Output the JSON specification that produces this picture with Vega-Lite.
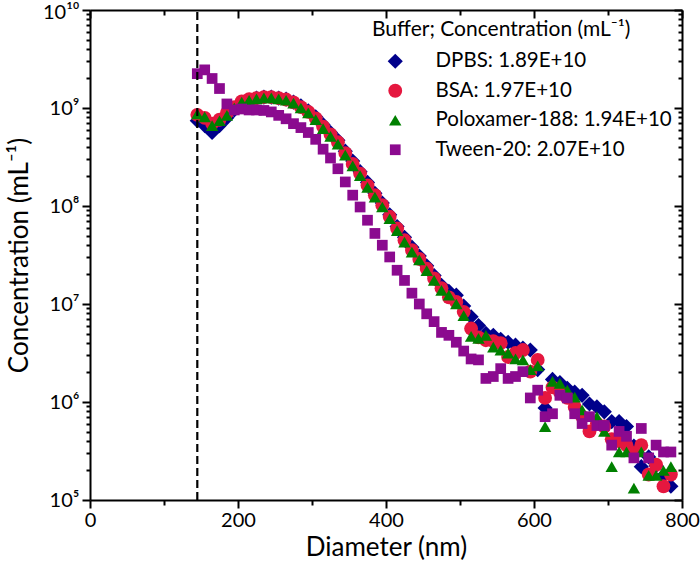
{
  "$schema": "https://vega.github.io/schema/vega-lite/v6.json",
  "autosize": {"type": "none"},
  "width": 592,
  "height": 490,
  "padding": {"left": 90, "top": 10, "right": 18, "bottom": 64},
  "background": "white",
  "config": {
    "font": "Lato",
    "view": {"stroke": null},
    "axis": {
      "domainColor": "black", "domainWidth": 2, "tickColor": "black", "tickWidth": 2,
      "labelColor": "black", "titleColor": "black", "labelFontSize": 20, "titleFontSize": 26,
      "titleFontWeight": "normal", "grid": false, "labelFlush": false, "labelOverlap": false, "labelBound": false
    },
    "legend": {
      "orient": "none", "legendX": 282, "legendY": 9, "padding": 0,
      "titleFontSize": 21, "titleFontWeight": "normal", "titleColor": "black", "titlePadding": 11, "titleLimit": 400,
      "labelFontSize": 20.5, "labelColor": "black", "labelLimit": 400, "rowPadding": 8.5,
      "symbolOffset": 13, "labelOffset": 30
    }
  },
  "layer": [
    {
      "data": {"values": [
        {"buffer": "DPBS: 1.89E+10", "diameter": 145, "conc": 7.41e8},
        {"buffer": "DPBS: 1.89E+10", "diameter": 155, "conc": 6.61e8},
        {"buffer": "DPBS: 1.89E+10", "diameter": 165, "conc": 5.62e8},
        {"buffer": "DPBS: 1.89E+10", "diameter": 175, "conc": 6.61e8},
        {"buffer": "DPBS: 1.89E+10", "diameter": 185, "conc": 7.94e8},
        {"buffer": "DPBS: 1.89E+10", "diameter": 195, "conc": 9.55e8},
        {"buffer": "DPBS: 1.89E+10", "diameter": 205, "conc": 1.12e9},
        {"buffer": "DPBS: 1.89E+10", "diameter": 215, "conc": 1.20e9},
        {"buffer": "DPBS: 1.89E+10", "diameter": 225, "conc": 1.26e9},
        {"buffer": "DPBS: 1.89E+10", "diameter": 235, "conc": 1.29e9},
        {"buffer": "DPBS: 1.89E+10", "diameter": 245, "conc": 1.29e9},
        {"buffer": "DPBS: 1.89E+10", "diameter": 255, "conc": 1.26e9},
        {"buffer": "DPBS: 1.89E+10", "diameter": 265, "conc": 1.23e9},
        {"buffer": "DPBS: 1.89E+10", "diameter": 275, "conc": 1.15e9},
        {"buffer": "DPBS: 1.89E+10", "diameter": 285, "conc": 1.05e9},
        {"buffer": "DPBS: 1.89E+10", "diameter": 295, "conc": 9.33e8},
        {"buffer": "DPBS: 1.89E+10", "diameter": 305, "conc": 8.13e8},
        {"buffer": "DPBS: 1.89E+10", "diameter": 315, "conc": 6.76e8},
        {"buffer": "DPBS: 1.89E+10", "diameter": 325, "conc": 5.62e8},
        {"buffer": "DPBS: 1.89E+10", "diameter": 335, "conc": 4.68e8},
        {"buffer": "DPBS: 1.89E+10", "diameter": 345, "conc": 3.63e8},
        {"buffer": "DPBS: 1.89E+10", "diameter": 355, "conc": 2.88e8},
        {"buffer": "DPBS: 1.89E+10", "diameter": 365, "conc": 2.24e8},
        {"buffer": "DPBS: 1.89E+10", "diameter": 375, "conc": 1.74e8},
        {"buffer": "DPBS: 1.89E+10", "diameter": 385, "conc": 1.35e8},
        {"buffer": "DPBS: 1.89E+10", "diameter": 395, "conc": 1.07e8},
        {"buffer": "DPBS: 1.89E+10", "diameter": 405, "conc": 8.13e7},
        {"buffer": "DPBS: 1.89E+10", "diameter": 415, "conc": 6.17e7},
        {"buffer": "DPBS: 1.89E+10", "diameter": 425, "conc": 4.79e7},
        {"buffer": "DPBS: 1.89E+10", "diameter": 435, "conc": 3.80e7},
        {"buffer": "DPBS: 1.89E+10", "diameter": 445, "conc": 3.09e7},
        {"buffer": "DPBS: 1.89E+10", "diameter": 455, "conc": 2.45e7},
        {"buffer": "DPBS: 1.89E+10", "diameter": 465, "conc": 1.95e7},
        {"buffer": "DPBS: 1.89E+10", "diameter": 475, "conc": 1.55e7},
        {"buffer": "DPBS: 1.89E+10", "diameter": 485, "conc": 1.35e7},
        {"buffer": "DPBS: 1.89E+10", "diameter": 495, "conc": 1.23e7},
        {"buffer": "DPBS: 1.89E+10", "diameter": 505, "conc": 9.55e6},
        {"buffer": "DPBS: 1.89E+10", "diameter": 515, "conc": 7.41e6},
        {"buffer": "DPBS: 1.89E+10", "diameter": 525, "conc": 6.03e6},
        {"buffer": "DPBS: 1.89E+10", "diameter": 535, "conc": 5.01e6},
        {"buffer": "DPBS: 1.89E+10", "diameter": 545, "conc": 4.79e6},
        {"buffer": "DPBS: 1.89E+10", "diameter": 555, "conc": 4.37e6},
        {"buffer": "DPBS: 1.89E+10", "diameter": 565, "conc": 4.07e6},
        {"buffer": "DPBS: 1.89E+10", "diameter": 575, "conc": 3.80e6},
        {"buffer": "DPBS: 1.89E+10", "diameter": 585, "conc": 3.55e6},
        {"buffer": "DPBS: 1.89E+10", "diameter": 595, "conc": 3.39e6},
        {"buffer": "DPBS: 1.89E+10", "diameter": 605, "conc": 2.14e6},
        {"buffer": "DPBS: 1.89E+10", "diameter": 615, "conc": 8.71e5},
        {"buffer": "DPBS: 1.89E+10", "diameter": 625, "conc": 1.70e6},
        {"buffer": "DPBS: 1.89E+10", "diameter": 635, "conc": 1.58e6},
        {"buffer": "DPBS: 1.89E+10", "diameter": 645, "conc": 1.38e6},
        {"buffer": "DPBS: 1.89E+10", "diameter": 655, "conc": 1.26e6},
        {"buffer": "DPBS: 1.89E+10", "diameter": 665, "conc": 1.17e6},
        {"buffer": "DPBS: 1.89E+10", "diameter": 675, "conc": 9.55e5},
        {"buffer": "DPBS: 1.89E+10", "diameter": 685, "conc": 8.91e5},
        {"buffer": "DPBS: 1.89E+10", "diameter": 695, "conc": 7.94e5},
        {"buffer": "DPBS: 1.89E+10", "diameter": 705, "conc": 6.31e5},
        {"buffer": "DPBS: 1.89E+10", "diameter": 715, "conc": 6.31e5},
        {"buffer": "DPBS: 1.89E+10", "diameter": 725, "conc": 5.62e5},
        {"buffer": "DPBS: 1.89E+10", "diameter": 735, "conc": 3.55e5},
        {"buffer": "DPBS: 1.89E+10", "diameter": 745, "conc": 2.19e5},
        {"buffer": "DPBS: 1.89E+10", "diameter": 755, "conc": 2.75e5},
        {"buffer": "DPBS: 1.89E+10", "diameter": 765, "conc": 2.24e5},
        {"buffer": "DPBS: 1.89E+10", "diameter": 775, "conc": 1.78e5},
        {"buffer": "DPBS: 1.89E+10", "diameter": 785, "conc": 1.38e5},
        {"buffer": "BSA: 1.97E+10", "diameter": 145, "conc": 8.51e8},
        {"buffer": "BSA: 1.97E+10", "diameter": 155, "conc": 7.94e8},
        {"buffer": "BSA: 1.97E+10", "diameter": 165, "conc": 6.92e8},
        {"buffer": "BSA: 1.97E+10", "diameter": 175, "conc": 7.59e8},
        {"buffer": "BSA: 1.97E+10", "diameter": 185, "conc": 8.91e8},
        {"buffer": "BSA: 1.97E+10", "diameter": 195, "conc": 1.02e9},
        {"buffer": "BSA: 1.97E+10", "diameter": 205, "conc": 1.17e9},
        {"buffer": "BSA: 1.97E+10", "diameter": 215, "conc": 1.23e9},
        {"buffer": "BSA: 1.97E+10", "diameter": 225, "conc": 1.26e9},
        {"buffer": "BSA: 1.97E+10", "diameter": 235, "conc": 1.29e9},
        {"buffer": "BSA: 1.97E+10", "diameter": 245, "conc": 1.29e9},
        {"buffer": "BSA: 1.97E+10", "diameter": 255, "conc": 1.26e9},
        {"buffer": "BSA: 1.97E+10", "diameter": 265, "conc": 1.22e9},
        {"buffer": "BSA: 1.97E+10", "diameter": 275, "conc": 1.14e9},
        {"buffer": "BSA: 1.97E+10", "diameter": 285, "conc": 1.02e9},
        {"buffer": "BSA: 1.97E+10", "diameter": 295, "conc": 9.12e8},
        {"buffer": "BSA: 1.97E+10", "diameter": 305, "conc": 7.85e8},
        {"buffer": "BSA: 1.97E+10", "diameter": 315, "conc": 6.46e8},
        {"buffer": "BSA: 1.97E+10", "diameter": 325, "conc": 5.37e8},
        {"buffer": "BSA: 1.97E+10", "diameter": 335, "conc": 4.47e8},
        {"buffer": "BSA: 1.97E+10", "diameter": 345, "conc": 3.47e8},
        {"buffer": "BSA: 1.97E+10", "diameter": 355, "conc": 2.69e8},
        {"buffer": "BSA: 1.97E+10", "diameter": 365, "conc": 2.14e8},
        {"buffer": "BSA: 1.97E+10", "diameter": 375, "conc": 1.62e8},
        {"buffer": "BSA: 1.97E+10", "diameter": 385, "conc": 1.29e8},
        {"buffer": "BSA: 1.97E+10", "diameter": 395, "conc": 1.02e8},
        {"buffer": "BSA: 1.97E+10", "diameter": 405, "conc": 7.76e7},
        {"buffer": "BSA: 1.97E+10", "diameter": 415, "conc": 5.89e7},
        {"buffer": "BSA: 1.97E+10", "diameter": 425, "conc": 4.47e7},
        {"buffer": "BSA: 1.97E+10", "diameter": 435, "conc": 3.55e7},
        {"buffer": "BSA: 1.97E+10", "diameter": 445, "conc": 2.88e7},
        {"buffer": "BSA: 1.97E+10", "diameter": 455, "conc": 2.29e7},
        {"buffer": "BSA: 1.97E+10", "diameter": 465, "conc": 1.82e7},
        {"buffer": "BSA: 1.97E+10", "diameter": 475, "conc": 1.45e7},
        {"buffer": "BSA: 1.97E+10", "diameter": 485, "conc": 1.17e7},
        {"buffer": "BSA: 1.97E+10", "diameter": 495, "conc": 1.05e7},
        {"buffer": "BSA: 1.97E+10", "diameter": 505, "conc": 8.32e6},
        {"buffer": "BSA: 1.97E+10", "diameter": 515, "conc": 5.62e6},
        {"buffer": "BSA: 1.97E+10", "diameter": 525, "conc": 4.57e6},
        {"buffer": "BSA: 1.97E+10", "diameter": 535, "conc": 4.27e6},
        {"buffer": "BSA: 1.97E+10", "diameter": 545, "conc": 4.17e6},
        {"buffer": "BSA: 1.97E+10", "diameter": 555, "conc": 3.98e6},
        {"buffer": "BSA: 1.97E+10", "diameter": 565, "conc": 2.88e6},
        {"buffer": "BSA: 1.97E+10", "diameter": 575, "conc": 3.16e6},
        {"buffer": "BSA: 1.97E+10", "diameter": 585, "conc": 3.39e6},
        {"buffer": "BSA: 1.97E+10", "diameter": 595, "conc": 2.04e6},
        {"buffer": "BSA: 1.97E+10", "diameter": 605, "conc": 2.69e6},
        {"buffer": "BSA: 1.97E+10", "diameter": 615, "conc": 1.10e6},
        {"buffer": "BSA: 1.97E+10", "diameter": 625, "conc": 1.41e6},
        {"buffer": "BSA: 1.97E+10", "diameter": 635, "conc": 1.26e6},
        {"buffer": "BSA: 1.97E+10", "diameter": 645, "conc": 1.10e6},
        {"buffer": "BSA: 1.97E+10", "diameter": 655, "conc": 8.91e5},
        {"buffer": "BSA: 1.97E+10", "diameter": 665, "conc": 7.08e5},
        {"buffer": "BSA: 1.97E+10", "diameter": 675, "conc": 5.01e5},
        {"buffer": "BSA: 1.97E+10", "diameter": 685, "conc": 6.03e5},
        {"buffer": "BSA: 1.97E+10", "diameter": 695, "conc": 5.62e5},
        {"buffer": "BSA: 1.97E+10", "diameter": 705, "conc": 4.17e5},
        {"buffer": "BSA: 1.97E+10", "diameter": 715, "conc": 3.98e5},
        {"buffer": "BSA: 1.97E+10", "diameter": 725, "conc": 3.63e5},
        {"buffer": "BSA: 1.97E+10", "diameter": 735, "conc": 3.02e5},
        {"buffer": "BSA: 1.97E+10", "diameter": 745, "conc": 3.63e5},
        {"buffer": "BSA: 1.97E+10", "diameter": 755, "conc": 1.82e5},
        {"buffer": "BSA: 1.97E+10", "diameter": 765, "conc": 2.29e5},
        {"buffer": "BSA: 1.97E+10", "diameter": 775, "conc": 1.38e5},
        {"buffer": "BSA: 1.97E+10", "diameter": 785, "conc": 1.82e5},
        {"buffer": "Poloxamer-188: 1.94E+10", "diameter": 145, "conc": 8.71e8},
        {"buffer": "Poloxamer-188: 1.94E+10", "diameter": 155, "conc": 8.13e8},
        {"buffer": "Poloxamer-188: 1.94E+10", "diameter": 165, "conc": 6.61e8},
        {"buffer": "Poloxamer-188: 1.94E+10", "diameter": 175, "conc": 7.41e8},
        {"buffer": "Poloxamer-188: 1.94E+10", "diameter": 185, "conc": 8.41e8},
        {"buffer": "Poloxamer-188: 1.94E+10", "diameter": 195, "conc": 1.00e9},
        {"buffer": "Poloxamer-188: 1.94E+10", "diameter": 205, "conc": 1.15e9},
        {"buffer": "Poloxamer-188: 1.94E+10", "diameter": 215, "conc": 1.20e9},
        {"buffer": "Poloxamer-188: 1.94E+10", "diameter": 225, "conc": 1.24e9},
        {"buffer": "Poloxamer-188: 1.94E+10", "diameter": 235, "conc": 1.27e9},
        {"buffer": "Poloxamer-188: 1.94E+10", "diameter": 245, "conc": 1.27e9},
        {"buffer": "Poloxamer-188: 1.94E+10", "diameter": 255, "conc": 1.24e9},
        {"buffer": "Poloxamer-188: 1.94E+10", "diameter": 265, "conc": 1.20e9},
        {"buffer": "Poloxamer-188: 1.94E+10", "diameter": 275, "conc": 1.12e9},
        {"buffer": "Poloxamer-188: 1.94E+10", "diameter": 285, "conc": 1.00e9},
        {"buffer": "Poloxamer-188: 1.94E+10", "diameter": 295, "conc": 8.91e8},
        {"buffer": "Poloxamer-188: 1.94E+10", "diameter": 305, "conc": 7.59e8},
        {"buffer": "Poloxamer-188: 1.94E+10", "diameter": 315, "conc": 6.17e8},
        {"buffer": "Poloxamer-188: 1.94E+10", "diameter": 325, "conc": 5.13e8},
        {"buffer": "Poloxamer-188: 1.94E+10", "diameter": 335, "conc": 4.27e8},
        {"buffer": "Poloxamer-188: 1.94E+10", "diameter": 345, "conc": 3.31e8},
        {"buffer": "Poloxamer-188: 1.94E+10", "diameter": 355, "conc": 2.57e8},
        {"buffer": "Poloxamer-188: 1.94E+10", "diameter": 365, "conc": 2.04e8},
        {"buffer": "Poloxamer-188: 1.94E+10", "diameter": 375, "conc": 1.55e8},
        {"buffer": "Poloxamer-188: 1.94E+10", "diameter": 385, "conc": 1.23e8},
        {"buffer": "Poloxamer-188: 1.94E+10", "diameter": 395, "conc": 9.77e7},
        {"buffer": "Poloxamer-188: 1.94E+10", "diameter": 405, "conc": 7.41e7},
        {"buffer": "Poloxamer-188: 1.94E+10", "diameter": 415, "conc": 5.62e7},
        {"buffer": "Poloxamer-188: 1.94E+10", "diameter": 425, "conc": 4.27e7},
        {"buffer": "Poloxamer-188: 1.94E+10", "diameter": 435, "conc": 3.39e7},
        {"buffer": "Poloxamer-188: 1.94E+10", "diameter": 445, "conc": 2.82e7},
        {"buffer": "Poloxamer-188: 1.94E+10", "diameter": 455, "conc": 2.19e7},
        {"buffer": "Poloxamer-188: 1.94E+10", "diameter": 465, "conc": 1.74e7},
        {"buffer": "Poloxamer-188: 1.94E+10", "diameter": 475, "conc": 1.38e7},
        {"buffer": "Poloxamer-188: 1.94E+10", "diameter": 485, "conc": 1.23e7},
        {"buffer": "Poloxamer-188: 1.94E+10", "diameter": 495, "conc": 1.00e7},
        {"buffer": "Poloxamer-188: 1.94E+10", "diameter": 505, "conc": 7.59e6},
        {"buffer": "Poloxamer-188: 1.94E+10", "diameter": 515, "conc": 4.68e6},
        {"buffer": "Poloxamer-188: 1.94E+10", "diameter": 525, "conc": 4.47e6},
        {"buffer": "Poloxamer-188: 1.94E+10", "diameter": 535, "conc": 4.79e6},
        {"buffer": "Poloxamer-188: 1.94E+10", "diameter": 545, "conc": 3.63e6},
        {"buffer": "Poloxamer-188: 1.94E+10", "diameter": 555, "conc": 3.39e6},
        {"buffer": "Poloxamer-188: 1.94E+10", "diameter": 565, "conc": 3.16e6},
        {"buffer": "Poloxamer-188: 1.94E+10", "diameter": 575, "conc": 2.75e6},
        {"buffer": "Poloxamer-188: 1.94E+10", "diameter": 585, "conc": 2.69e6},
        {"buffer": "Poloxamer-188: 1.94E+10", "diameter": 595, "conc": 2.14e6},
        {"buffer": "Poloxamer-188: 1.94E+10", "diameter": 605, "conc": 2.34e6},
        {"buffer": "Poloxamer-188: 1.94E+10", "diameter": 615, "conc": 5.62e5},
        {"buffer": "Poloxamer-188: 1.94E+10", "diameter": 625, "conc": 1.62e6},
        {"buffer": "Poloxamer-188: 1.94E+10", "diameter": 635, "conc": 1.55e6},
        {"buffer": "Poloxamer-188: 1.94E+10", "diameter": 645, "conc": 1.32e6},
        {"buffer": "Poloxamer-188: 1.94E+10", "diameter": 655, "conc": 1.12e6},
        {"buffer": "Poloxamer-188: 1.94E+10", "diameter": 665, "conc": 8.32e5},
        {"buffer": "Poloxamer-188: 1.94E+10", "diameter": 675, "conc": 7.08e5},
        {"buffer": "Poloxamer-188: 1.94E+10", "diameter": 685, "conc": 7.08e5},
        {"buffer": "Poloxamer-188: 1.94E+10", "diameter": 695, "conc": 5.01e5},
        {"buffer": "Poloxamer-188: 1.94E+10", "diameter": 705, "conc": 2.19e5},
        {"buffer": "Poloxamer-188: 1.94E+10", "diameter": 715, "conc": 3.09e5},
        {"buffer": "Poloxamer-188: 1.94E+10", "diameter": 725, "conc": 3.09e5},
        {"buffer": "Poloxamer-188: 1.94E+10", "diameter": 735, "conc": 1.32e5},
        {"buffer": "Poloxamer-188: 1.94E+10", "diameter": 745, "conc": 3.09e5},
        {"buffer": "Poloxamer-188: 1.94E+10", "diameter": 755, "conc": 1.78e5},
        {"buffer": "Poloxamer-188: 1.94E+10", "diameter": 765, "conc": 1.78e5},
        {"buffer": "Poloxamer-188: 1.94E+10", "diameter": 775, "conc": 2.00e5},
        {"buffer": "Poloxamer-188: 1.94E+10", "diameter": 785, "conc": 2.19e5},
        {"buffer": "Tween-20: 2.07E+10", "diameter": 145, "conc": 2.24e9},
        {"buffer": "Tween-20: 2.07E+10", "diameter": 155, "conc": 2.45e9},
        {"buffer": "Tween-20: 2.07E+10", "diameter": 165, "conc": 2.00e9},
        {"buffer": "Tween-20: 2.07E+10", "diameter": 175, "conc": 1.58e9},
        {"buffer": "Tween-20: 2.07E+10", "diameter": 185, "conc": 1.10e9},
        {"buffer": "Tween-20: 2.07E+10", "diameter": 195, "conc": 9.55e8},
        {"buffer": "Tween-20: 2.07E+10", "diameter": 205, "conc": 9.77e8},
        {"buffer": "Tween-20: 2.07E+10", "diameter": 215, "conc": 9.55e8},
        {"buffer": "Tween-20: 2.07E+10", "diameter": 225, "conc": 9.55e8},
        {"buffer": "Tween-20: 2.07E+10", "diameter": 235, "conc": 9.44e8},
        {"buffer": "Tween-20: 2.07E+10", "diameter": 245, "conc": 9.12e8},
        {"buffer": "Tween-20: 2.07E+10", "diameter": 255, "conc": 8.41e8},
        {"buffer": "Tween-20: 2.07E+10", "diameter": 265, "conc": 7.76e8},
        {"buffer": "Tween-20: 2.07E+10", "diameter": 275, "conc": 6.92e8},
        {"buffer": "Tween-20: 2.07E+10", "diameter": 285, "conc": 6.31e8},
        {"buffer": "Tween-20: 2.07E+10", "diameter": 295, "conc": 5.62e8},
        {"buffer": "Tween-20: 2.07E+10", "diameter": 305, "conc": 4.79e8},
        {"buffer": "Tween-20: 2.07E+10", "diameter": 315, "conc": 3.80e8},
        {"buffer": "Tween-20: 2.07E+10", "diameter": 325, "conc": 3.09e8},
        {"buffer": "Tween-20: 2.07E+10", "diameter": 335, "conc": 2.40e8},
        {"buffer": "Tween-20: 2.07E+10", "diameter": 345, "conc": 1.76e8},
        {"buffer": "Tween-20: 2.07E+10", "diameter": 355, "conc": 1.29e8},
        {"buffer": "Tween-20: 2.07E+10", "diameter": 365, "conc": 9.77e7},
        {"buffer": "Tween-20: 2.07E+10", "diameter": 375, "conc": 7.16e7},
        {"buffer": "Tween-20: 2.07E+10", "diameter": 385, "conc": 5.25e7},
        {"buffer": "Tween-20: 2.07E+10", "diameter": 395, "conc": 3.98e7},
        {"buffer": "Tween-20: 2.07E+10", "diameter": 405, "conc": 3.02e7},
        {"buffer": "Tween-20: 2.07E+10", "diameter": 415, "conc": 2.21e7},
        {"buffer": "Tween-20: 2.07E+10", "diameter": 425, "conc": 1.74e7},
        {"buffer": "Tween-20: 2.07E+10", "diameter": 435, "conc": 1.29e7},
        {"buffer": "Tween-20: 2.07E+10", "diameter": 445, "conc": 1.00e7},
        {"buffer": "Tween-20: 2.07E+10", "diameter": 455, "conc": 7.94e6},
        {"buffer": "Tween-20: 2.07E+10", "diameter": 465, "conc": 6.61e6},
        {"buffer": "Tween-20: 2.07E+10", "diameter": 475, "conc": 5.13e6},
        {"buffer": "Tween-20: 2.07E+10", "diameter": 485, "conc": 4.79e6},
        {"buffer": "Tween-20: 2.07E+10", "diameter": 495, "conc": 4.07e6},
        {"buffer": "Tween-20: 2.07E+10", "diameter": 505, "conc": 3.31e6},
        {"buffer": "Tween-20: 2.07E+10", "diameter": 515, "conc": 2.75e6},
        {"buffer": "Tween-20: 2.07E+10", "diameter": 525, "conc": 2.69e6},
        {"buffer": "Tween-20: 2.07E+10", "diameter": 535, "conc": 1.74e6},
        {"buffer": "Tween-20: 2.07E+10", "diameter": 545, "conc": 1.82e6},
        {"buffer": "Tween-20: 2.07E+10", "diameter": 555, "conc": 2.19e6},
        {"buffer": "Tween-20: 2.07E+10", "diameter": 565, "conc": 1.74e6},
        {"buffer": "Tween-20: 2.07E+10", "diameter": 575, "conc": 1.82e6},
        {"buffer": "Tween-20: 2.07E+10", "diameter": 585, "conc": 2.04e6},
        {"buffer": "Tween-20: 2.07E+10", "diameter": 595, "conc": 1.10e6},
        {"buffer": "Tween-20: 2.07E+10", "diameter": 605, "conc": 1.32e6},
        {"buffer": "Tween-20: 2.07E+10", "diameter": 615, "conc": 7.08e5},
        {"buffer": "Tween-20: 2.07E+10", "diameter": 625, "conc": 7.59e5},
        {"buffer": "Tween-20: 2.07E+10", "diameter": 635, "conc": 1.17e6},
        {"buffer": "Tween-20: 2.07E+10", "diameter": 645, "conc": 1.10e6},
        {"buffer": "Tween-20: 2.07E+10", "diameter": 655, "conc": 7.59e5},
        {"buffer": "Tween-20: 2.07E+10", "diameter": 665, "conc": 6.03e5},
        {"buffer": "Tween-20: 2.07E+10", "diameter": 675, "conc": 7.08e5},
        {"buffer": "Tween-20: 2.07E+10", "diameter": 685, "conc": 5.75e5},
        {"buffer": "Tween-20: 2.07E+10", "diameter": 695, "conc": 5.75e5},
        {"buffer": "Tween-20: 2.07E+10", "diameter": 705, "conc": 3.63e5},
        {"buffer": "Tween-20: 2.07E+10", "diameter": 715, "conc": 5.01e5},
        {"buffer": "Tween-20: 2.07E+10", "diameter": 725, "conc": 4.47e5},
        {"buffer": "Tween-20: 2.07E+10", "diameter": 735, "conc": 2.69e5},
        {"buffer": "Tween-20: 2.07E+10", "diameter": 745, "conc": 5.37e5},
        {"buffer": "Tween-20: 2.07E+10", "diameter": 755, "conc": 2.69e5},
        {"buffer": "Tween-20: 2.07E+10", "diameter": 765, "conc": 3.63e5},
        {"buffer": "Tween-20: 2.07E+10", "diameter": 775, "conc": 3.09e5},
        {"buffer": "Tween-20: 2.07E+10", "diameter": 785, "conc": 3.09e5}
      ]},
      "mark": {"type": "point", "filled": true, "opacity": 1, "strokeWidth": 0},
      "encoding": {
        "x": {
          "field": "diameter", "type": "quantitative",
          "scale": {"domain": [0, 800], "nice": false, "zero": false},
          "axis": {
            "orient": "bottom", "title": "Diameter (nm)",
            "values": [0, 100, 200, 300, 400, 500, 600, 700, 800],
            "labelExpr": "datum.value % 200 == 0 ? datum.label : ''",
            "tickSize": {"condition": {"test": "datum.value % 200 == 0", "value": 8}, "value": 5},
            "labelPadding": 2, "titlePadding": 4
          }
        },
        "y": {
          "field": "conc", "type": "quantitative",
          "scale": {"type": "log", "domain": [1e5, 1e10], "nice": false},
          "axis": {
            "orient": "left", "title": "Concentration (mL⁻¹)",
            "values": [1e5, 2e5, 3e5, 4e5, 5e5, 6e5, 7e5, 8e5, 9e5, 1e6, 2e6, 3e6, 4e6, 5e6, 6e6, 7e6, 8e6, 9e6, 1e7, 2e7, 3e7, 4e7, 5e7, 6e7, 7e7, 8e7, 9e7, 1e8, 2e8, 3e8, 4e8, 5e8, 6e8, 7e8, 8e8, 9e8, 1e9, 2e9, 3e9, 4e9, 5e9, 6e9, 7e9, 8e9, 9e9, 1e10],
            "labelExpr": "datum.value == 1e10 ? '10¹⁰' : datum.value == 1e9 ? '10⁹' : datum.value == 1e8 ? '10⁸' : datum.value == 1e7 ? '10⁷' : datum.value == 1e6 ? '10⁶' : datum.value == 1e5 ? '10⁵' : ''",
            "labelOffset": {"condition": {"test": "datum.value == 1e10", "value": 2}, "value": 0},
            "tickSize": {"condition": {"test": "abs(log(datum.value)/LN10 - round(log(datum.value)/LN10)) < 0.01", "value": 8}, "value": 4},
            "labelPadding": 3, "titlePadding": 10
          }
        },
        "color": {
          "field": "buffer", "type": "nominal",
          "scale": {"domain": ["DPBS: 1.89E+10", "BSA: 1.97E+10", "Poloxamer-188: 1.94E+10", "Tween-20: 2.07E+10"], "range": ["#00008B", "#E5173F", "#008000", "#8B0A8F"]},
          "legend": {"title": "Buffer; Concentration (mL⁻¹)"}
        },
        "shape": {
          "field": "buffer", "type": "nominal",
          "scale": {"domain": ["DPBS: 1.89E+10", "BSA: 1.97E+10", "Poloxamer-188: 1.94E+10", "Tween-20: 2.07E+10"], "range": ["diamond", "circle", "triangle-up", "square"]},
          "legend": {"title": "Buffer; Concentration (mL⁻¹)"}
        },
        "size": {
          "field": "buffer", "type": "nominal",
          "scale": {"domain": ["DPBS: 1.89E+10", "BSA: 1.97E+10", "Poloxamer-188: 1.94E+10", "Tween-20: 2.07E+10"], "range": [230, 115, 140, 130]},
          "legend": {"title": "Buffer; Concentration (mL⁻¹)"}
        }
      }
    },
    {
      "data": {"values": [{"diameter": 145, "lo": 1e5, "hi": 1e10}]},
      "mark": {"type": "rule", "color": "black", "strokeWidth": 2.2, "strokeDash": [8, 4]},
      "encoding": {
        "x": {
          "field": "diameter", "type": "quantitative",
          "scale": {"domain": [0, 800], "nice": false, "zero": false},
          "axis": {
            "orient": "top", "title": null, "labels": false,
            "values": [0, 100, 200, 300, 400, 500, 600, 700, 800],
            "tickSize": {"condition": {"test": "datum.value % 200 == 0", "value": -8}, "value": -5}
          }
        },
        "y": {
          "field": "lo", "type": "quantitative",
          "scale": {"type": "log", "domain": [1e5, 1e10], "nice": false},
          "axis": {
            "orient": "right", "title": null, "labels": false,
            "values": [1e5, 2e5, 3e5, 4e5, 5e5, 6e5, 7e5, 8e5, 9e5, 1e6, 2e6, 3e6, 4e6, 5e6, 6e6, 7e6, 8e6, 9e6, 1e7, 2e7, 3e7, 4e7, 5e7, 6e7, 7e7, 8e7, 9e7, 1e8, 2e8, 3e8, 4e8, 5e8, 6e8, 7e8, 8e8, 9e8, 1e9, 2e9, 3e9, 4e9, 5e9, 6e9, 7e9, 8e9, 9e9, 1e10],
            "tickSize": {"condition": {"test": "abs(log(datum.value)/LN10 - round(log(datum.value)/LN10)) < 0.01", "value": -8}, "value": -4}
          }
        },
        "y2": {"field": "hi"}
      }
    }
  ],
  "resolve": {"axis": {"x": "independent", "y": "independent"}}
}
